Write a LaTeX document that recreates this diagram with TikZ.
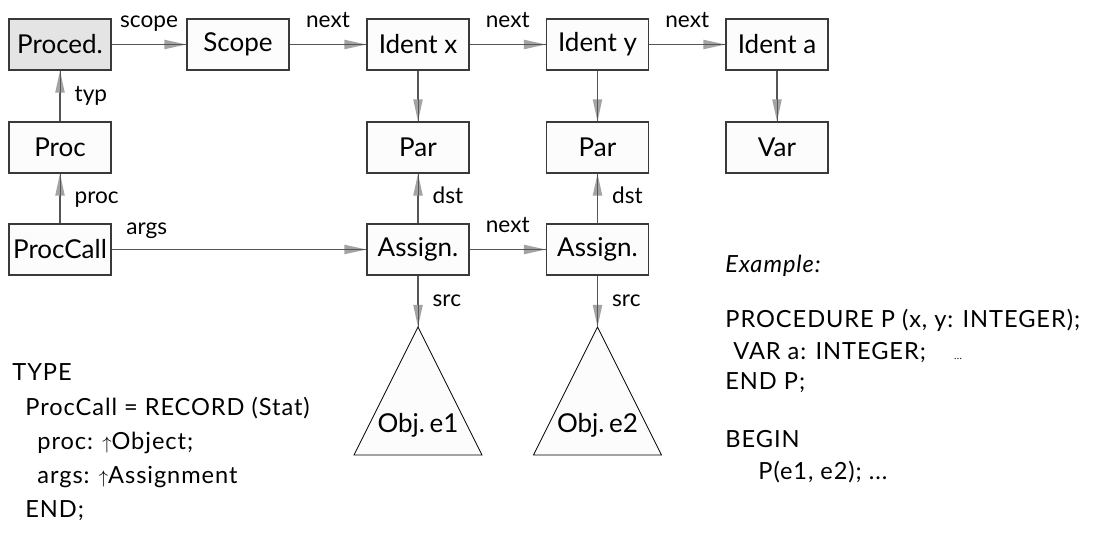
\documentclass[tikz,border=0pt]{standalone}
\usepackage{fontspec}
\setmainfont{Lato}
\newfontfamily\codefont[LetterSpace=4]{Lato}
\usetikzlibrary{arrows.meta}
\definecolor{edgegray}{HTML}{555555}
\definecolor{tipgray}{HTML}{A3A3A3}
\definecolor{boxline}{HTML}{3A3A3A}
\definecolor{boxfill}{HTML}{FCFCFC}
\definecolor{procfill}{HTML}{E4E4E4}
\begin{document}
\begin{tikzpicture}[x=0.5pt,y=-0.5pt,
  box/.style={draw=boxline, line width=0.6pt, fill=boxfill,
    minimum width=51pt, minimum height=25.5pt, inner sep=0pt,
    font=\fontsize{13}{15}\selectfont},
  conn/.style={draw=edgegray, line width=0.7pt,
    -{Triangle[length=11pt,width=4.6pt,color=tipgray,fill=tipgray]},
    postaction={draw=edgegray, line width=0.35pt, arrows=-}},
  labt/.style={font=\fontsize{11.3}{13}\selectfont, inner sep=0pt,
    anchor=base, yshift=8.5pt},
  labr/.style={font=\fontsize{11.3}{13}\selectfont, inner sep=0pt,
    anchor=mid west, xshift=7pt},
  tri/.style={draw=black, line width=0.4pt, fill=boxfill},
  objtext/.style={font=\fontsize{13}{15}\selectfont, inner sep=0pt, anchor=base},
  code/.style={font=\codefont\fontsize{11.8}{14}\selectfont, inner sep=0pt,
    anchor=base west}]
\useasboundingbox (0,0) rectangle (1097,539);

% object boxes
\node[box, fill=procfill] (proced) at (60,44.5)    {Proced.};
\node[box] (scope)  at (238,44.5)  {Scope};
\node[box] (idx)    at (418,44.5)  {Ident x};
\node[box] (idy)    at (597.5,44.5) {Ident y};
\node[box] (ida)    at (777,44.5)  {Ident a};
\node[box] (proc)   at (60,147.5)  {Proc};
\node[box] (parx)   at (418,147.5) {Par};
\node[box] (pary)   at (597.5,147.5) {Par};
\node[box] (var)    at (777,147.5) {Var};
\node[box] (call)   at (60,249.5)  {ProcCall};
\node[box] (asx)    at (418,249.5) {Assign.};
\node[box] (asy)    at (597.5,249.5) {Assign.};

% expression trees
\coordinate (e1top) at (418,327);
\coordinate (e2top) at (597.5,327);
\draw[tri] (e1top) -- (482,455) -- (354,455) -- cycle;
\draw[tri] (e2top) -- (661.5,455) -- (533.5,455) -- cycle;
\node[objtext] (obj1) at (418,432) {Obj.\hspace{0.18em}e1};
\node[objtext] (obj2) at (597.5,432) {Obj.\hspace{0.18em}e2};

% pointers
\draw[conn] (proced) -- node[labt] {scope} (scope);
\draw[conn] (scope) -- node[labt] {next} (idx);
\draw[conn] (idx) -- node[labt] {next} (idy);
\draw[conn] (idy) -- node[labt] {next} (ida);
\draw[conn] (idx) -- (parx);
\draw[conn] (idy) -- (pary);
\draw[conn] (ida) -- (var);
\draw[conn] (proc) -- node[labr] {typ} (proced);
\draw[conn] (call) -- node[labr] {proc} (proc);
\draw[conn] (call) -- node[pos=0, font=\fontsize{11.3}{13}\selectfont, inner sep=0pt,
  anchor=base west, xshift=7pt, yshift=7.5pt] {args} (asx);
\draw[conn] (asx) -- node[labr] {dst} (parx);
\draw[conn] (asy) -- node[labr] {dst} (pary);
\draw[conn] (asx) -- node[labt] {next} (asy);
\draw[conn] (asx) -- node[labr] {src} (e1top);
\draw[conn] (asy) -- node[labr] {src} (e2top);

% type declaration
\node[code] (t1) at (12,381)    {TYPE};
\node[code] (t2) at (25,415.75) {ProcCall = RECORD (Stat)};
\node[code] (t3) at (37,449.5)  {proc: {\small$\uparrow$}Object;};
\node[code] (t4) at (37,483.25) {args: {\small$\uparrow$}Assignment};
\node[code] (t5) at (25,517)    {END;};

% example program
\node[code] (x0) at (725,273) {\itshape Example:};
\node[code] (x1) at (725,328) {PROCEDURE P (x, y: INTEGER);};
\node[code] (x2) at (733,359.5) {VAR a: INTEGER;\hspace{1.2em}{\tiny ...}};
\node[code] (x3) at (725,390) {END P;};
\node[code] (x4) at (725,447) {BEGIN};
\node[code] (x5) at (758,480) {P(e1, e2); ...};
\end{tikzpicture}
\end{document}
